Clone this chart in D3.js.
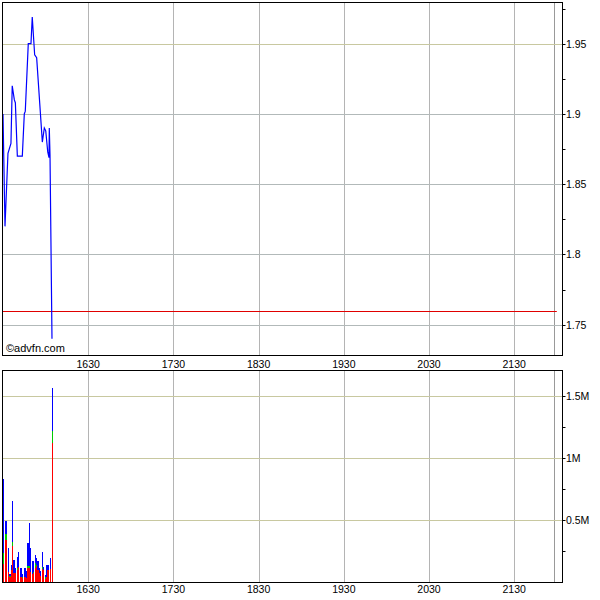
<!DOCTYPE html>
<html><head><meta charset="utf-8">
<script src="https://cdn.jsdelivr.net/npm/d3@7"></script>
<style>
body{margin:0;background:#fff}
svg{display:block}
text{font-family:"Liberation Sans",Arial,sans-serif;fill:#000}
</style>
</head><body>
<svg id="c" width="600" height="600"></svg>
<script>
// ---------- data ----------
const priceTimes = ["15:30:00","15:31:24","15:33:30","15:35:36","15:36:30","15:38:00","15:38:42","15:40:06","15:43:36","15:45:00","15:45:42","15:47:48","15:49:42","15:50:36","15:52:18","15:53:42","15:57:42","15:59:06","16:00:06","16:01:30","16:02:24","16:02:36","16:03:06","16:04:30"];
const prices     = [1.90,1.82,1.872,1.879,1.92,1.91,1.908,1.87,1.87,1.90,1.902,1.95,1.95,1.969,1.942,1.94,1.88,1.89,1.888,1.873,1.869,1.89,1.871,1.74];

const volTimes = ["15:30:30","15:32:06","15:34:00","15:34:48","15:35:48","15:36:48","15:37:42","15:38:48","15:40:00","15:41:06","15:42:42","15:43:42","15:45:36","15:46:30","15:47:30","15:48:30","15:49:24","15:50:48","15:51:30","15:52:42","15:53:42","15:54:36","15:55:36","15:56:36","15:57:42","15:58:42","16:00:06","16:01:00","16:01:48","16:03:18","16:04:42"];
const volRed   = [142000,337000,80000,40000,94000,289000,69000,70000,94000,118000,40000,30000,40000,30000,110000,110000,80000,60000,70000,110000,126000,94000,70000,50000,104000,94000,20000,40000,94000,107000,1118000];
const volGreen = [90000,49000,0,10000,0,35000,0,0,20000,0,0,10000,0,0,20000,20000,0,0,10000,40000,10000,0,0,0,20000,0,20000,0,0,0,100000];
const volBlue  = [598000,108000,192000,10000,40000,333000,106000,40000,86000,124000,70000,20000,70000,58000,186000,345000,190000,107000,87000,65000,54000,73000,45000,40000,118000,26000,18000,94000,40000,83000,347000];

const prevClose = 1.76;
const sessionStart = "15:30", sessionEnd = "22:04", closeMarker = "21:58";
const xTickLabels = ["1630","1730","1830","1930","2030","2130"];
const priceTicks = [1.75,1.8,1.85,1.9,1.95];
const priceTickLabels = ["1.75","1.8","1.85","1.9","1.95"];
const priceMinorTicks = [1.775,1.825,1.875,1.925,1.975];
const volTicks = [500000,1000000,1500000];
const volTickLabels = ["0.5M","1M","1.5M"];
const volMinorTicks = [250000,750000,1250000];
const credit = "\u00A9advfn.com";

// ---------- helpers ----------
function toMin(s){
  if(/^\d{4}$/.test(s)) return +s.slice(0,2)*60 + +s.slice(2);
  const p = s.split(":").map(Number);
  return p[0]*60 + p[1] + (p[2]||0)/60;
}

const svg = d3.select("#c");
const L = 2.5, R = 562.5;
const pTop = 2.5, pBot = 355.5;
const vTop = 370.5, vBot = 582.5;

const x = d3.scaleLinear().domain([toMin(sessionStart), toMin(sessionEnd)]).range([3, 562.5]);
const yP = d3.scaleLinear().domain([1.7281, 1.9793]).range([pBot, pTop]);
const yV = d3.scaleLinear().domain([0, 1707600]).range([581.9, vTop]);

const khaki = "#c8c8a0", gray = "#b2b9b9", vgray = "#b4b4b4";

function panel(top, bot){
  const g = svg.append("g");
  g.append("rect").attr("x",L).attr("y",top).attr("width",R-L).attr("height",bot-top).attr("fill","#fff");
  // vertical grid
  xTickLabels.forEach(t=>{
    const xx = Math.round(x(toMin(t)))+0.5;
    g.append("line").attr("x1",xx).attr("x2",xx).attr("y1",top).attr("y2",bot)
      .attr("stroke",vgray).attr("stroke-width",1);
  });
  const cx = Math.round(x(toMin(closeMarker)))+0.5;
  g.append("line").attr("x1",cx).attr("x2",cx).attr("y1",top).attr("y2",bot)
    .attr("stroke","#999").attr("stroke-width",1);
  return g;
}

// ---------- price panel ----------
const gp = panel(pTop, pBot);
priceTicks.forEach((v,i)=>{
  const yy = Math.round(yP(v))+0.5;
  gp.append("line").attr("x1",L).attr("x2",R).attr("y1",yy).attr("y2",yy)
    .attr("stroke", v===1.95 ? khaki : gray).attr("stroke-width",1);
});
// previous close
const pcY = Math.round(yP(prevClose))+0.5;
gp.append("line").attr("x1",L).attr("x2",x(toMin("22:00"))).attr("y1",pcY).attr("y2",pcY)
  .attr("stroke","#e00000").attr("stroke-width",1);

const pdata = priceTimes.map((t,i)=>({t:toMin(t), v:prices[i]}));
gp.append("path").datum(pdata)
  .attr("d", d3.line().x(d=>x(d.t)).y(d=>yP(d.v)))
  .attr("fill","none").attr("stroke","#0000ff").attr("stroke-width",1.2);

gp.append("text").attr("x",6).attr("y",352).attr("font-size","11px").attr("fill","#333").text(credit);

gp.append("rect").attr("x",L).attr("y",pTop).attr("width",R-L).attr("height",pBot-pTop)
  .attr("fill","none").attr("stroke","#000").attr("stroke-width",1);

// right axis ticks & labels
function rightAxis(scale, ticks, labels, minor){
  ticks.forEach((v,i)=>{
    const yy = Math.round(scale(v))+0.5;
    svg.append("line").attr("x1",R).attr("x2",R+3).attr("y1",yy).attr("y2",yy).attr("stroke","#000");
    svg.append("text").attr("x",566).attr("y",yy).attr("dy","0.35em").attr("font-size","10.5px").text(labels[i]);
  });
  minor.forEach(v=>{
    const yy = Math.round(scale(v))+0.5;
    svg.append("line").attr("x1",R).attr("x2",R+3).attr("y1",yy).attr("y2",yy).attr("stroke","#000");
  });
}
rightAxis(yP, priceTicks, priceTickLabels, priceMinorTicks);

// x labels
function xLabels(yc){
  xTickLabels.forEach(t=>{
    svg.append("text").attr("x",x(toMin(t))).attr("y",yc).attr("dy","0.35em")
      .attr("text-anchor","middle").attr("font-size","10.5px").text(t);
  });
}
xLabels(364);

// ---------- volume panel ----------
const gv = panel(vTop, vBot);
volTicks.forEach(v=>{
  const yy = Math.round(yV(v))+0.5;
  gv.append("line").attr("x1",L).attr("x2",R).attr("y1",yy).attr("y2",yy)
    .attr("stroke",khaki).attr("stroke-width",1);
});
const vdata = volTimes.map((t,i)=>({t:toMin(t), r:volRed[i], g:volGreen[i], b:volBlue[i]}));
const bw = 1.4;
const bars = gv.append("g").attr("shape-rendering","crispEdges");
vdata.forEach(d=>{
  const xx = x(d.t) - bw/2;
  const segs = [["#ff0000",0,d.r],["#00cc00",d.r,d.r+d.g],["#0000ff",d.r+d.g,d.r+d.g+d.b]];
  segs.forEach(([c,a,b])=>{
    if(b<=a) return;
    bars.append("rect").attr("x",xx).attr("width",bw)
      .attr("y",yV(b)).attr("height",yV(a)-yV(b)).attr("fill",c);
  });
});
gv.append("rect").attr("x",L).attr("y",vTop).attr("width",R-L).attr("height",vBot-vTop)
  .attr("fill","none").attr("stroke","#000").attr("stroke-width",1);
rightAxis(yV, volTicks, volTickLabels, volMinorTicks);
xLabels(589);
</script>
</body></html>
